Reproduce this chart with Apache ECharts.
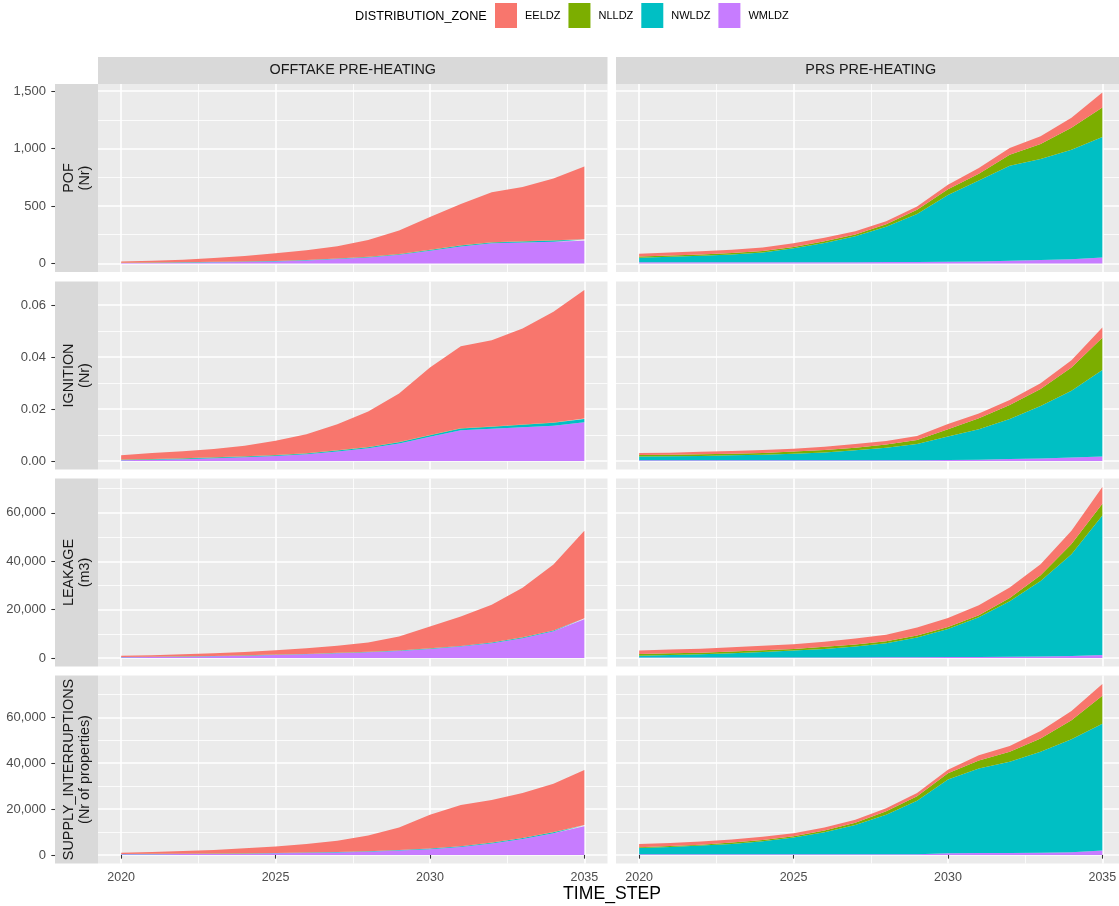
<!DOCTYPE html>
<html>
<head>
<meta charset="utf-8">
<title>Risk by distribution zone</title>
<script src="https://cdn.jsdelivr.net/npm/echarts@6/dist/echarts.min.js"></script>
<style>
  html, body { margin: 0; padding: 0; background: #ffffff; }
  #chart { width: 1119px; height: 906px; }
</style>
</head>
<body>
<div id="chart"></div>
<script>
// ---- data -------------------------------------------------------------
const years = [2020, 2021, 2022, 2023, 2024, 2025, 2026, 2027, 2028, 2029, 2030, 2031, 2032, 2033, 2034, 2035];
const zones = ['EELDZ', 'NLLDZ', 'NWLDZ', 'WMLDZ'];
const methods = ['OFFTAKE PRE-HEATING', 'PRS PRE-HEATING'];
const measures = ['POF\n(Nr)', 'IGNITION\n(Nr)', 'LEAKAGE\n(m3)', 'SUPPLY_INTERRUPTIONS\n(Nr of properties)'];

// POF (Nr)
const pofOfftakeEELDZ = [12, 15, 22, 33, 48, 66, 84, 106, 146, 205, 286, 359, 435, 472, 539, 634];
const pofOfftakeNLLDZ = [1, 1, 1, 1, 1, 1, 1, 1, 2, 2, 2, 2, 2, 2, 2, 3];
const pofOfftakeNWLDZ = [2, 2, 3, 3, 3, 4, 4, 5, 5, 6, 7, 8, 8, 9, 9, 10];
const pofOfftakeWMLDZ = [3, 5, 7, 10, 13, 17, 25, 38, 52, 75, 110, 148, 175, 182, 190, 198];
const pofPrsEELDZ = [25, 26, 27, 28, 30, 32, 30, 28, 26, 28, 38, 48, 60, 68, 88, 131];
const pofPrsNLLDZ = [10, 11, 12, 12, 12, 12, 15, 16, 22, 38, 50, 60, 95, 130, 190, 255];
const pofPrsNWLDZ = [40, 48, 57, 69, 86, 121, 167, 226, 307, 418, 583, 704, 827, 879, 955, 1050];
const pofPrsWMLDZ = [10, 10, 10, 10, 10, 11, 11, 11, 12, 12, 14, 18, 24, 30, 36, 52];

// IGNITION (Nr)
const ignitionOfftakeEELDZ = [0.0016, 0.0023, 0.0027, 0.0032, 0.0041, 0.0055, 0.0073, 0.0100, 0.0136, 0.0187, 0.0260, 0.0316, 0.0332, 0.0370, 0.0426, 0.0495];
const ignitionOfftakeNLLDZ = [0.0001, 0.0001, 0.0001, 0.0001, 0.0001, 0.0001, 0.0001, 0.0001, 0.0001, 0.0001, 0.0001, 0.0001, 0.0001, 0.0001, 0.0001, 0.0001];
const ignitionOfftakeNWLDZ = [0.0002, 0.0002, 0.0002, 0.0003, 0.0003, 0.0003, 0.0003, 0.0004, 0.0004, 0.0005, 0.0006, 0.0007, 0.0008, 0.0009, 0.0011, 0.0013];
const ignitionOfftakeWMLDZ = [0.0003, 0.0005, 0.0007, 0.0010, 0.0014, 0.0019, 0.0026, 0.0036, 0.0049, 0.0067, 0.0093, 0.0118, 0.0124, 0.0130, 0.0136, 0.0149];
const ignitionPrsEELDZ = [0.0008, 0.0008, 0.0009, 0.0010, 0.0011, 0.0011, 0.0013, 0.0014, 0.0014, 0.0015, 0.0020, 0.0019, 0.0020, 0.0022, 0.0028, 0.0040];
const ignitionPrsNLLDZ = [0.0006, 0.0006, 0.0007, 0.0006, 0.0007, 0.0008, 0.0009, 0.0010, 0.0012, 0.0016, 0.0028, 0.0042, 0.0053, 0.0065, 0.0090, 0.0124];
const ignitionPrsNWLDZ = [0.0014, 0.0015, 0.0016, 0.0019, 0.0021, 0.0025, 0.0030, 0.0038, 0.0048, 0.0062, 0.0090, 0.0117, 0.0154, 0.0203, 0.0257, 0.0333];
const ignitionPrsWMLDZ = [0.0003, 0.0003, 0.0003, 0.0003, 0.0003, 0.0003, 0.0003, 0.0003, 0.0003, 0.0003, 0.0004, 0.0005, 0.0008, 0.0009, 0.0013, 0.0017];

// LEAKAGE (m3)
const leakageOfftakeEELDZ = [570, 610, 845, 1135, 1420, 1810, 2345, 2875, 3850, 5780, 9005, 12230, 15595, 20460, 27310, 36140];
const leakageOfftakeNLLDZ = [20, 20, 25, 25, 30, 30, 35, 35, 40, 40, 45, 50, 55, 60, 70, 80];
const leakageOfftakeNWLDZ = [60, 70, 80, 90, 100, 110, 120, 140, 160, 180, 200, 220, 250, 280, 320, 380];
const leakageOfftakeWMLDZ = [300, 400, 550, 700, 950, 1250, 1500, 1950, 2350, 2900, 3750, 4700, 6100, 8200, 11000, 16000];
const leakagePrsEELDZ = [1400, 1500, 1650, 1750, 1800, 1950, 2150, 2500, 2700, 3300, 3700, 4200, 4300, 4600, 5500, 6900];
const leakagePrsNLLDZ = [700, 700, 700, 700, 700, 700, 850, 850, 850, 850, 850, 850, 1400, 2400, 4200, 4900];
const leakagePrsNWLDZ = [800, 1100, 1350, 1800, 2350, 2890, 3580, 4520, 5850, 8150, 11600, 16400, 22950, 31200, 42100, 57700];
const leakagePrsWMLDZ = [150, 150, 150, 150, 150, 160, 170, 180, 250, 300, 350, 400, 500, 600, 800, 1200];

// SUPPLY_INTERRUPTIONS (Nr of properties)
const supplyOfftakeEELDZ = [570, 820, 1170, 1600, 2200, 2820, 3720, 4870, 6870, 9820, 14670, 17970, 18620, 19570, 21020, 23970];
const supplyOfftakeNLLDZ = [30, 30, 30, 30, 30, 30, 30, 30, 30, 30, 30, 30, 30, 30, 30, 30];
const supplyOfftakeNWLDZ = [100, 100, 100, 120, 120, 150, 150, 200, 200, 250, 300, 300, 350, 400, 450, 500];
const supplyOfftakeWMLDZ = [300, 350, 400, 450, 550, 700, 900, 1100, 1400, 1900, 2500, 3500, 5000, 7000, 9500, 12500];
const supplyPrsEELDZ = [1450, 1300, 1350, 1300, 1350, 1300, 1300, 1300, 1400, 1450, 1500, 2300, 2500, 3200, 4100, 5100];
const supplyPrsNLLDZ = [300, 450, 400, 600, 550, 600, 800, 900, 1500, 1900, 2750, 3550, 4400, 5800, 8300, 12200];
const supplyPrsNWLDZ = [2750, 3200, 3800, 4500, 5700, 7300, 9600, 12800, 17200, 23350, 32150, 36850, 39700, 44000, 49250, 55300];
const supplyPrsWMLDZ = [300, 300, 300, 300, 300, 300, 300, 300, 300, 300, 700, 800, 900, 1000, 1150, 1900];

// tick labels
const yearTicks = [2020, 2025, 2030, 2035];
const yearMinorTicks = [2022.5, 2027.5, 2032.5];
const pofTicks = [0, 500, 1000, 1500];
const pofMinorTicks = [250, 750, 1250];
const ignitionTicks = [0, 0.02, 0.04, 0.06];
const ignitionMinorTicks = [0.01, 0.03, 0.05];
const leakageTicks = [0, 20000, 40000, 60000];
const leakageMinorTicks = [10000, 30000, 50000, 70000];
const supplyTicks = [0, 20000, 40000, 60000];
const supplyMinorTicks = [10000, 30000, 50000, 70000];

// ---- assembly ---------------------------------------------------------
const panelValues = [
  [
    { EELDZ: pofOfftakeEELDZ, NLLDZ: pofOfftakeNLLDZ, NWLDZ: pofOfftakeNWLDZ, WMLDZ: pofOfftakeWMLDZ },
    { EELDZ: pofPrsEELDZ, NLLDZ: pofPrsNLLDZ, NWLDZ: pofPrsNWLDZ, WMLDZ: pofPrsWMLDZ }
  ],
  [
    { EELDZ: ignitionOfftakeEELDZ, NLLDZ: ignitionOfftakeNLLDZ, NWLDZ: ignitionOfftakeNWLDZ, WMLDZ: ignitionOfftakeWMLDZ },
    { EELDZ: ignitionPrsEELDZ, NLLDZ: ignitionPrsNLLDZ, NWLDZ: ignitionPrsNWLDZ, WMLDZ: ignitionPrsWMLDZ }
  ],
  [
    { EELDZ: leakageOfftakeEELDZ, NLLDZ: leakageOfftakeNLLDZ, NWLDZ: leakageOfftakeNWLDZ, WMLDZ: leakageOfftakeWMLDZ },
    { EELDZ: leakagePrsEELDZ, NLLDZ: leakagePrsNLLDZ, NWLDZ: leakagePrsNWLDZ, WMLDZ: leakagePrsWMLDZ }
  ],
  [
    { EELDZ: supplyOfftakeEELDZ, NLLDZ: supplyOfftakeNLLDZ, NWLDZ: supplyOfftakeNWLDZ, WMLDZ: supplyOfftakeWMLDZ },
    { EELDZ: supplyPrsEELDZ, NLLDZ: supplyPrsNLLDZ, NWLDZ: supplyPrsNWLDZ, WMLDZ: supplyPrsWMLDZ }
  ]
];
const rowTicks = [pofTicks, ignitionTicks, leakageTicks, supplyTicks];
const rowMinorTicks = [pofMinorTicks, ignitionMinorTicks, leakageMinorTicks, supplyMinorTicks];
const rowFormat = [
  v => v.toLocaleString('en-US'),
  v => v.toFixed(2),
  v => v.toLocaleString('en-US'),
  v => v.toLocaleString('en-US')
];

const zoneColor = { EELDZ: '#F8766D', NLLDZ: '#7CAE00', NWLDZ: '#00BFC4', WMLDZ: '#C77CFF' };
const stackOrder = ['WMLDZ', 'NWLDZ', 'NLLDZ', 'EELDZ']; // bottom to top

// panel geometry (ggplot-like facet grid)
const colLeft = [98, 616];
const panelW = 509.5;
const rowTop = [84, 281.5, 478.5, 675.5];
const panelH = 188;
const FONT = '"Liberation Sans", Arial, Helvetica, sans-serif';

// ggplot default expansion: 5% of the data range on each side
const xMin = years[0] - 0.05 * (years[years.length - 1] - years[0]);
const xMax = years[years.length - 1] + 0.05 * (years[years.length - 1] - years[0]);

function rowExtent(r) {
  let max = 0;
  for (let c = 0; c < 2; c++) {
    const vals = panelValues[r][c];
    years.forEach((_, i) => {
      const t = zones.reduce((s, z) => s + vals[z][i], 0);
      if (t > max) max = t;
    });
  }
  return [-0.05 * max, 1.05 * max];
}

const grids = [], xAxes = [], yAxes = [], series = [];
const white = '#FFFFFF';

for (let r = 0; r < 4; r++) {
  const [yMin, yMax] = rowExtent(r);
  for (let c = 0; c < 2; c++) {
    const p = grids.length;
    grids.push({
      left: colLeft[c], top: rowTop[r], width: panelW, height: panelH,
      show: true, backgroundColor: '#EBEBEB', borderWidth: 0,
      outerBoundsMode: 'none', containLabel: false
    });
    const bottomRow = r === 3;
    // main x axis
    xAxes.push({
      type: 'value', gridIndex: p, min: xMin, max: xMax, position: 'bottom',
      axisLine: { show: false },
      axisTick: { show: bottomRow, length: 3.7, lineStyle: { color: '#333333', width: 1.07 }, customValues: yearTicks },
      axisLabel: { show: bottomRow, customValues: yearTicks, margin: 8, color: '#4D4D4D', fontSize: 12.5, fontFamily: FONT, formatter: v => String(v) },
      splitLine: { show: true, lineStyle: { color: white, width: 1.6 } }
    });
    // minor x grid lines
    xAxes.push({
      type: 'value', gridIndex: p, min: xMin, max: xMax, position: 'bottom',
      axisLine: { show: false },
      axisTick: { show: false, customValues: yearMinorTicks },
      axisLabel: { show: false, customValues: yearMinorTicks },
      splitLine: { show: true, lineStyle: { color: white, width: 0.8 } }
    });
    // main y axis
    const leftCol = c === 0;
    yAxes.push({
      type: 'value', gridIndex: p, min: yMin, max: yMax, position: 'left', offset: leftCol ? 43 : 0,
      axisLine: { show: false },
      axisTick: { show: leftCol, length: 3.7, lineStyle: { color: '#333333', width: 1.07 }, customValues: rowTicks[r] },
      axisLabel: { show: leftCol, customValues: rowTicks[r], margin: 9, color: '#4D4D4D', fontSize: 13, fontFamily: FONT, formatter: rowFormat[r] },
      splitLine: { show: true, lineStyle: { color: white, width: 1.6 } }
    });
    // minor y grid lines
    yAxes.push({
      type: 'value', gridIndex: p, min: yMin, max: yMax, position: 'left',
      axisLine: { show: false },
      axisTick: { show: false, customValues: rowMinorTicks[r] },
      axisLabel: { show: false, customValues: rowMinorTicks[r] },
      splitLine: { show: true, lineStyle: { color: white, width: 0.8 } }
    });

    // value first in each record so the stack accumulates along y
    stackOrder.forEach(z => {
      series.push({
        type: 'line', name: z, xAxisIndex: 2 * p, yAxisIndex: 2 * p, stack: 'panel' + p,
        encode: { x: 1, y: 0 },
        data: years.map((y, i) => [panelValues[r][c][z][i], y]),
        showSymbol: false, symbol: 'none', silent: true,
        lineStyle: { width: 0 },
        itemStyle: { color: zoneColor[z] },
        areaStyle: { color: zoneColor[z], opacity: 1 },
        z: 3
      });
    });
  }
}

// strips, legend title and axis title
const graphics = [];
methods.forEach((m, c) => {
  graphics.push({ type: 'rect', shape: { x: colLeft[c], y: 57, width: panelW, height: 27 }, style: { fill: '#D9D9D9' }, silent: true });
  graphics.push({ type: 'text', x: colLeft[c] + panelW / 2, y: 70.5,
    style: { text: m, fill: '#1A1A1A', font: '14.4px ' + FONT, align: 'center', verticalAlign: 'middle' }, silent: true });
});
measures.forEach((m, r) => {
  graphics.push({ type: 'rect', shape: { x: 55, y: rowTop[r], width: 43, height: panelH }, style: { fill: '#D9D9D9' }, silent: true });
  graphics.push({ type: 'text', x: 77, y: rowTop[r] + panelH / 2, rotation: Math.PI / 2,
    style: { text: m, fill: '#1A1A1A', font: '14.4px ' + FONT, align: 'center', verticalAlign: 'middle', lineHeight: 16 }, silent: true });
});
graphics.push({ type: 'text', x: 355, y: 16,
  style: { text: 'DISTRIBUTION_ZONE', fill: '#000000', font: '12.7px ' + FONT, align: 'left', verticalAlign: 'middle' }, silent: true });
graphics.push({ type: 'text', x: 612, y: 894,
  style: { text: 'TIME_STEP', fill: '#000000', font: '17.6px ' + FONT, align: 'center', verticalAlign: 'middle' }, silent: true });

const chart = echarts.init(document.getElementById('chart'), null, { renderer: 'canvas' });
chart.setOption({
  animation: false,
  backgroundColor: '#FFFFFF',
  textStyle: { fontFamily: FONT },
  legend: {
    data: zones, left: 495, top: 3, padding: 0, itemWidth: 22, itemHeight: 25, itemGap: 8,
    icon: 'rect', selectedMode: false,
    textStyle: { color: '#000000', fontSize: 11, fontFamily: FONT, padding: [0, 0, 0, 3] }
  },
  grid: grids,
  xAxis: xAxes,
  yAxis: yAxes,
  series: series,
  graphic: graphics
});
</script>
</body>
</html>
